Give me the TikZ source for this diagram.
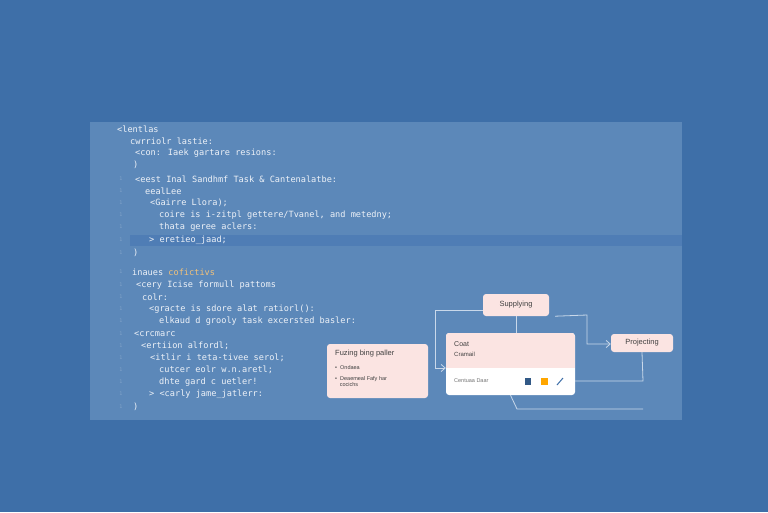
\documentclass[tikz,border=0pt]{standalone}
\usepackage{fontspec}
\setmainfont{Liberation Sans}
\newfontfamily\codefont{DejaVu Sans Mono}
\usetikzlibrary{arrows.meta}
\definecolor{bg}{HTML}{3E6FA8}
\definecolor{panel}{HTML}{5C88B9}
\definecolor{band}{HTML}{4F7DB5}
\definecolor{pinkbox}{HTML}{FBE4E2}
\definecolor{codec}{HTML}{EEF2F8}
\definecolor{numc}{HTML}{7FA2C8}
\definecolor{kw}{HTML}{F2C27A}
\definecolor{conn}{HTML}{C9D8EA}
\begin{document}
\begin{tikzpicture}[x=1pt,y=-1pt,
  code/.style={anchor=west,inner sep=0pt,text=codec,font=\codefont\fontsize{8.6}{9}\selectfont},
  num/.style={anchor=center,inner sep=0pt,text=numc,font=\codefont\fontsize{5}{6}\selectfont},
  box/.style={draw=none,fill=pinkbox,rounded corners=3pt},
  lab/.style={inner sep=0pt,text=black!75,font=\fontsize{7}{8}\selectfont},
  wire/.style={draw=conn,line width=0.8pt},
  arr/.style={wire,-{Straight Barb[length=4pt,width=7pt]}}]
\useasboundingbox (0,0) rectangle (768,512);
\fill[bg] (0,0) rectangle (768,512);
\fill[panel] (90,122) rectangle (682,420);
\fill[band] (130,235) rectangle (682,246);
% code lines
\foreach \y/\x/\t in {
129/117/{<lentlas},141/130/{cwrriolr lastie:},153/135/{<con: Iaek gartare resions:},165/133/{)},
179/135/{<eest Inal Sandhmf Task \& Cantenalatbe:},191/145/{eealLee},203/150/{<Gairre Llora);},
215/159/{coire is i-zitpl gettere/Tvanel, and metedny;},227/159/{thata geree aclers:},240/149/{> eretieo\_jaad;},
253/133/{)},285/136/{<cery Icise formull pattoms},297/142/{colr:},309/149/{<gracte is sdore alat ratiorl():},
321/159/{elkaud d grooly task excersted basler:},334/134/{<crcmarc},346/141/{<ertiion alfordl;},
358/150/{<itlir i teta-tivee serol;},370/159/{cutcer eolr w.n.aretl;},382/159/{dhte gard c uetler!},
394/149/{> <carly jame\_jatlerr:},407/133/{)}}
{\node[code] at (\x,\y) {\t};}
\node[code] at (132,272) {inaues \textcolor{kw}{cofictivs}};
\foreach \y in {179,191,203,215,227,240,253,272,285,297,309,321,334,346,358,370,382,394,407}
{\node[num] at (121,\y) {1};}
% diagram nodes
\node[box,minimum width=101pt,minimum height=54pt] (fz) at (377.5,371) {};
\node[lab,anchor=west,font=\fontsize{7.5}{8}\selectfont] at (335,354) {Fuzing bing paller};
\node[lab,anchor=west,font=\fontsize{5.5}{6}\selectfont] at (335,368) {\textbullet\ \ Ondaea};
\node[lab,anchor=north west,align=left,font=\fontsize{5.5}{6}\selectfont] at (335,376) {\textbullet\ \ Deaemeal Fafy har\\\ \ \ cocichs};
\node[draw=none,fill=white,rounded corners=3pt,minimum width=129pt,minimum height=62pt] (card) at (510.5,364) {};
\begin{scope}
\clip[rounded corners=3pt] (446,333) rectangle (575,395);
\fill[pinkbox] (446,333) rectangle (575,368);
\end{scope}
\node[lab,anchor=west,font=\fontsize{7}{8}\selectfont] at (454,344) {Coat};
\node[lab,anchor=west,font=\fontsize{6}{7}\selectfont] at (454,354) {Cramail};
\node[lab,anchor=west,text=black!55,font=\fontsize{5.5}{6}\selectfont] at (454,381) {Centuaa Daar};
\fill[bg!80!black] (525,378) rectangle (531,385);
\fill[orange!70!yellow] (541,378) rectangle (548,385);
\draw[bg,line width=1pt] (557,385) -- (563,378);
\node[box,minimum width=66pt,minimum height=22pt] (sup) at (516,305) {};
\node[lab,font=\fontsize{7.5}{8}\selectfont] at (sup) {Supplying};
\node[box,minimum width=62pt,minimum height=18pt] (proj) at (642,343) {};
\node[lab,font=\fontsize{7.5}{8}\selectfont] at (proj) {Projecting};
% connectors
\coordinate (a1) at (435,310);
\coordinate (a2) at (435,368);
\draw[arr] (sup.west |- a1) -- (a1) -- (a2) -- (a2 -| card.west);
\draw[wire] (sup.south) -- (sup.south |- card.north);
\draw[arr] ([xshift=6pt]sup.south east) -- (587,315) -- (587,344) -- (proj.west |- 0,344);
\draw[wire] (proj.south) -- (643,381) -- (card.east |- 0,381);
\draw[wire] (card.south) -- (517,409) -- (643,409);
\end{tikzpicture}
\end{document}
